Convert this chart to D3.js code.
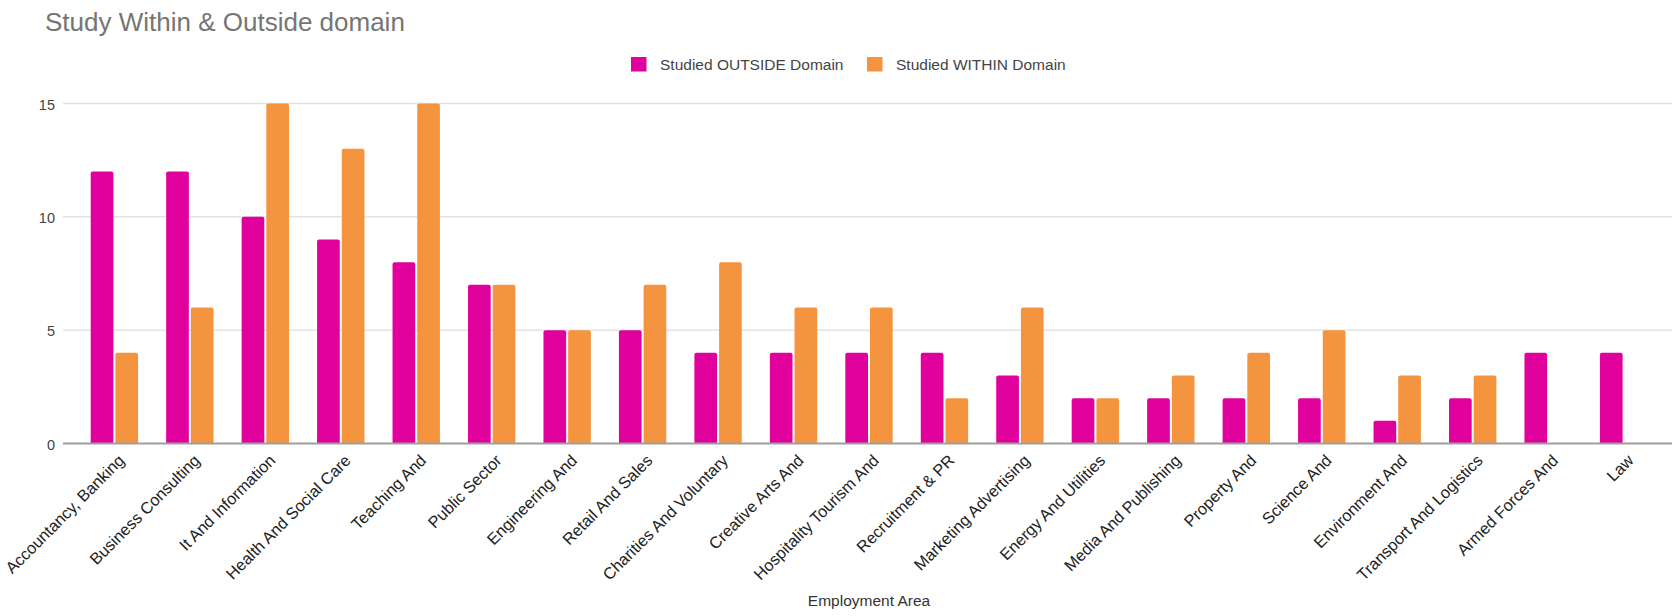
<!DOCTYPE html>
<html>
<head>
<meta charset="utf-8">
<script src="https://cdn.jsdelivr.net/npm/d3@7"></script>
<style>
  html, body { margin: 0; padding: 0; background: #ffffff; }
  svg { display: block; font-family: "Liberation Sans", Arial, sans-serif; }
</style>
</head>
<body>
<svg id="chart" width="1672" height="616"></svg>
<script>
// Employment areas (x categories)
const categories = [
  "Accountancy, Banking", "Business Consulting", "It And Information",
  "Health And Social Care", "Teaching And", "Public Sector", "Engineering And",
  "Retail And Sales", "Charities And Voluntary", "Creative Arts And",
  "Hospitality Tourism And", "Recruitment & PR", "Marketing Advertising",
  "Energy And Utilities", "Media And Publishing", "Property And", "Science And",
  "Environment And", "Transport And Logistics", "Armed Forces And", "Law"
];

// Series names
const seriesNames = ["Studied OUTSIDE Domain", "Studied WITHIN Domain"];

// Counts per employment area
const outsideValues = [12, 12, 10, 9, 8, 7, 5, 5, 4, 4, 4, 4, 3, 2, 2, 2, 2, 1, 2, 4, 4];
const withinValues  = [4, 6, 15, 13, 15, 7, 5, 7, 8, 6, 6, 2, 6, 2, 3, 4, 5, 3, 3, 0, 0];

// Y axis ticks
const yTicks = [0, 5, 10, 15];

const colors = { "Studied OUTSIDE Domain": "#e0009c", "Studied WITHIN Domain": "#f5943f" };

const rows = categories.map((c, i) => ({
  category: c,
  values: [
    { series: seriesNames[0], value: outsideValues[i] },
    { series: seriesNames[1], value: withinValues[i] }
  ]
}));

const svg = d3.select("#chart");
const W = 1672;

const x = d3.scaleBand()
  .domain(categories)
  .range([63, 1675])
  .paddingInner(0.372)
  .paddingOuter(0.367);

const xs = d3.scaleBand()
  .domain(seriesNames)
  .range([0, x.bandwidth()])
  .paddingInner(0.081)
  .paddingOuter(0);

const y = d3.scaleLinear().domain([0, 15]).range([443.5, 103.5]);

// Title
svg.append("text")
  .attr("x", 45).attr("y", 31)
  .attr("font-size", 26)
  .attr("fill", "#757575")
  .text("Study Within & Outside domain");

// Horizontal gridlines
svg.append("g")
  .selectAll("line")
  .data(yTicks.filter(d => d !== 0))
  .join("line")
  .attr("x1", 63).attr("x2", W)
  .attr("y1", d => y(d)).attr("y2", d => y(d))
  .attr("stroke", "#e3e3e3")
  .attr("stroke-width", 1.5);

// Y axis tick labels
const yAxis = svg.append("g")
  .attr("transform", "translate(55,0)")
  .call(d3.axisLeft(y).tickValues(yTicks).tickSize(0).tickPadding(0).tickFormat(d3.format("d")));
yAxis.select(".domain").remove();
yAxis.selectAll("text")
  .attr("font-size", 14.5)
  .attr("font-family", "Liberation Sans, Arial, sans-serif")
  .attr("fill", "#444")
  .attr("dy", "0.4em");

// Bars with slightly rounded top corners
function barPath(x0, w, yTop, yBase) {
  const h = yBase - yTop;
  if (h <= 0) return "";
  const r = Math.min(2, h / 2, w / 2);
  return `M${x0},${yBase}V${yTop + r}Q${x0},${yTop} ${x0 + r},${yTop}` +
         `H${x0 + w - r}Q${x0 + w},${yTop} ${x0 + w},${yTop + r}V${yBase}Z`;
}

const groups = svg.append("g")
  .selectAll("g")
  .data(rows)
  .join("g")
  .attr("transform", d => `translate(${x(d.category)},0)`);

groups.selectAll("path")
  .data(d => d.values)
  .join("path")
  .attr("d", d => barPath(xs(d.series), xs.bandwidth(), y(d.value), y(0)))
  .attr("fill", d => colors[d.series]);

// Baseline
svg.append("line")
  .attr("x1", 63).attr("x2", W)
  .attr("y1", y(0)).attr("y2", y(0))
  .attr("stroke", "#9e9e9e")
  .attr("stroke-width", 2);

// X axis category labels, rotated
const xAxis = svg.append("g")
  .attr("transform", `translate(0,${y(0)})`)
  .call(d3.axisBottom(x).tickSize(0).tickPadding(0));
xAxis.select(".domain").remove();
xAxis.selectAll(".tick text")
  .attr("font-size", 16.3)
  .attr("font-family", "Liberation Sans, Arial, sans-serif")
  .attr("fill", "#222")
  .attr("text-anchor", "end")
  .attr("dy", 0)
  .attr("y", 0)
  .attr("transform", "translate(11,18) rotate(-45)");

// X axis title
svg.append("text")
  .attr("x", 869).attr("y", 606)
  .attr("text-anchor", "middle")
  .attr("font-size", 15.5)
  .attr("fill", "#333")
  .text("Employment Area");

// Legend
const legendPos = [631, 867];
const legend = svg.append("g")
  .selectAll("g")
  .data(seriesNames)
  .join("g")
  .attr("transform", (d, i) => `translate(${legendPos[i]},57)`);
legend.append("rect")
  .attr("width", 15.5).attr("height", 14.5)
  .attr("fill", d => colors[d]);
legend.append("text")
  .attr("x", 29).attr("y", 12.5)
  .attr("font-size", 15.5)
  .attr("fill", "#444")
  .text(d => d);
</script>
</body>
</html>
